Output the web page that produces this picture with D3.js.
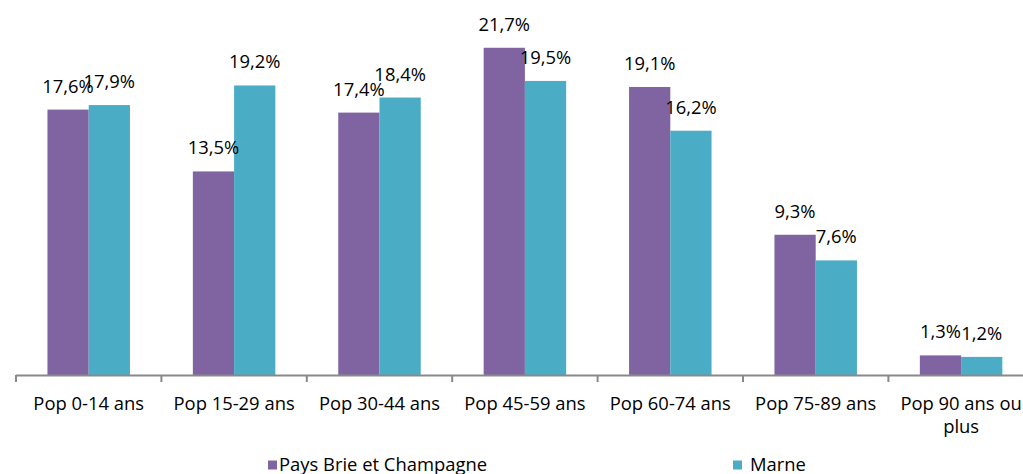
<!DOCTYPE html>
<html>
<head>
<meta charset="utf-8">
<script src="https://cdn.jsdelivr.net/npm/d3@7"></script>
<style>
  html, body { margin: 0; padding: 0; background: #fff; }
  svg { display: block; font-family: "Open Sans", sans-serif; }
</style>
</head>
<body>
<div class="svg-container"></div>
<script>
var categories = ["Pop 0-14 ans", "Pop 15-29 ans", "Pop 30-44 ans", "Pop 45-59 ans",
  "Pop 60-74 ans", "Pop 75-89 ans", "Pop 90 ans ou plus"];
var seriesNames = ["Pays Brie et Champagne", "Marne"];
var paysBrie = [17.6, 13.5, 17.4, 21.7, 19.1, 9.3, 1.3];
var marne = [17.9, 19.2, 18.4, 19.5, 16.2, 7.6, 1.2];
var colors = ["#8064a2", "#4bacc6"];

var width = 1023, height = 474;
var baseY = 375;
var fontSize = 18.4;

var svg = d3.select(".svg-container").append("svg")
  .attr("width", width).attr("height", height);

var x0 = d3.scaleBand().domain(categories).range([16, 16 + 7 * 145.4]).padding(0);
var x1 = d3.scaleBand().domain(seriesNames).range([0, x0.bandwidth()])
  .paddingInner(0).paddingOuter(0.7625);
var y = d3.scaleLinear().domain([0, 25]).range([baseY, baseY - 25 * 15.08]);

var fmt = (v) => d3.format(".1f")(v).replace(".", ",") + "%";

var rows = categories.map((c, i) => ({
  cat: c,
  values: [
    {name: seriesNames[0], v: paysBrie[i], color: colors[0]},
    {name: seriesNames[1], v: marne[i], color: colors[1]}
  ]
}));

var groups = svg.selectAll("g.cat").data(rows).enter().append("g")
  .attr("class", "cat")
  .attr("transform", (d) => "translate(" + x0(d.cat) + ",0)");

groups.selectAll("rect").data((d) => d.values).enter().append("rect")
  .attr("x", (d) => x1(d.name))
  .attr("width", x1.bandwidth())
  .attr("y", (d) => y(d.v))
  .attr("height", (d) => baseY - y(d.v))
  .attr("fill", (d) => d.color);

groups.selectAll("text.lbl").data((d) => d.values).enter().append("text")
  .attr("class", "lbl")
  .attr("x", (d) => x1(d.name) + x1.bandwidth() / 2)
  .attr("y", (d) => y(d.v) - 17)
  .attr("text-anchor", "middle")
  .attr("font-size", fontSize)
  .attr("fill", "#000")
  .text((d) => fmt(d.v));

// axis: line plus ticks at category boundaries
var axis = d3.axisBottom(x0).tickSize(0).tickFormat("");
var axisG = svg.append("g").attr("transform", "translate(0," + baseY + ")").call(axis);
axisG.select(".domain").remove();
axisG.append("line")
  .attr("x1", 16).attr("x2", width).attr("y1", 0.5).attr("y2", 0.5)
  .attr("stroke", "#898989").attr("stroke-width", 2);
var bounds = categories.map((c) => x0(c));
axisG.selectAll("line.tk").data(bounds).enter().append("line")
  .attr("class", "tk")
  .attr("x1", (d) => d).attr("x2", (d) => d)
  .attr("y1", 0).attr("y2", 7)
  .attr("stroke", "#898989").attr("stroke-width", 2);

// category labels, wrapped when wider than the slot
var catLabels = svg.selectAll("text.cat").data(categories).enter().append("text")
  .attr("class", "cat")
  .attr("x", (d) => x0(d) + x0.bandwidth() / 2)
  .attr("y", 410)
  .attr("text-anchor", "middle")
  .attr("font-size", fontSize)
  .attr("fill", "#000");

catLabels.each(function(d) {
  var el = d3.select(this);
  var words = d.split(" ");
  var line = [], lines = [];
  var tmp = el.append("tspan");
  words.forEach((w) => {
    line.push(w);
    tmp.text(line.join(" "));
    if (tmp.node().getComputedTextLength() > x0.bandwidth() - 8 && line.length > 1) {
      line.pop();
      lines.push(line.join(" "));
      line = [w];
    }
  });
  lines.push(line.join(" "));
  tmp.remove();
  lines.forEach((l, i) => {
    el.append("tspan").attr("x", x0(d) + x0.bandwidth() / 2)
      .attr("dy", i === 0 ? 0 : 23).text(l);
  });
});

// legend
var legendX = [268, 733];
var legendTextX = [279, 750];
var legend = svg.selectAll("g.leg").data(seriesNames).enter().append("g")
  .attr("class", "leg");
legend.append("rect")
  .attr("x", (d, i) => legendX[i]).attr("y", 460.5)
  .attr("width", 9).attr("height", 9)
  .attr("fill", (d, i) => colors[i]);
legend.append("text")
  .attr("x", (d, i) => legendTextX[i]).attr("y", 471)
  .attr("font-size", fontSize).attr("fill", "#000")
  .text((d) => d);
</script>
</body>
</html>
